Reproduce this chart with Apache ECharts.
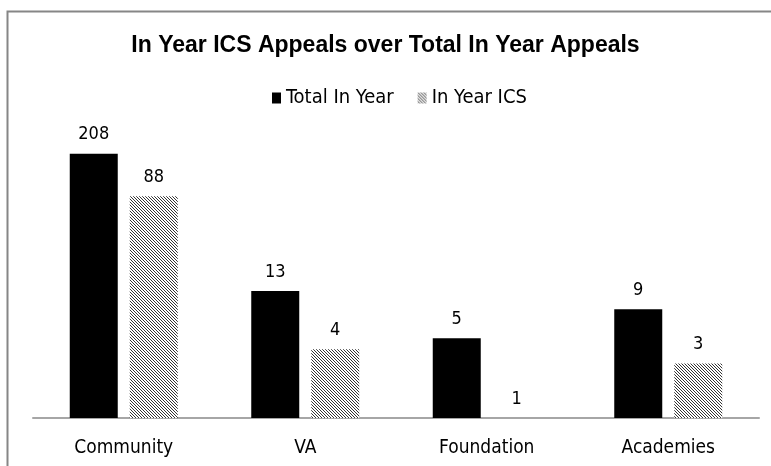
<!DOCTYPE html>
<html>
<head>
<meta charset="utf-8">
<script src="https://cdn.jsdelivr.net/npm/echarts@6/dist/echarts.min.js"></script>
<style>
  html, body { margin: 0; padding: 0; background: #fff; }
  #chart { width: 771px; height: 466px; }
</style>
</head>
<body>
<div id="chart"></div>
<script>
const categories = ["Community", "VA", "Foundation", "Academies"];
const totalInYear = [208, 13, 5, 9];
const inYearICS = [88, 4, 1, 3];

// diagonal hatch like the excel pattern fill
function makeHatch() {
  const c = document.createElement("canvas");
  c.width = 3;
  c.height = 3;
  const ctx = c.getContext("2d");
  ctx.fillStyle = "#ffffff";
  ctx.fillRect(0, 0, 3, 3);
  ctx.fillStyle = "#333333";
  for (let i = 0; i < 3; i++) ctx.fillRect(i, i, 1, 1);
  return c;
}
const hatch = { image: makeHatch(), repeat: "repeat" };

const labelFont = "'DejaVu Sans Condensed', 'Open Sans', sans-serif";

const chart = echarts.init(document.getElementById("chart"));
chart.setOption({
  animation: false,
  backgroundColor: "#fff",
  title: {
    text: "In Year ICS Appeals over Total In Year Appeals",
    left: "center",
    top: 29,
    textStyle: { fontFamily: "'Liberation Sans', Arial, sans-serif", fontSize: 23, fontWeight: "bold", color: "#000" },
  },
  legend: {
    top: 83,
    left: 267,
    itemWidth: 9,
    itemHeight: 11,
    itemGap: 24,
    icon: "rect",
    textStyle: { fontFamily: labelFont, fontSize: 20, color: "#000" },
    data: ["Total In Year", "In Year ICS"],
  },
  grid: { left: 33, right: 12, top: 76, bottom: 48 },
  xAxis: {
    type: "category",
    data: categories,
    axisLine: { lineStyle: { color: "#a6a6a6", width: 2 } },
    axisTick: { show: false },
    axisLabel: { margin: 21, fontFamily: labelFont, fontSize: 19, color: "#000" },
  },
  yAxis: {
    type: "log",
    min: 1,
    max: 1000,
    show: false,
  },
  series: [
    {
      name: "Total In Year",
      type: "bar",
      data: totalInYear,
      barWidth: 48,
      barGap: "25%",
      itemStyle: { color: "#000" },
      label: { show: true, position: "top", distance: 10, fontFamily: labelFont, fontSize: 18, color: "#000" },
    },
    {
      name: "In Year ICS",
      type: "bar",
      data: inYearICS,
      barWidth: 48,
      itemStyle: { color: hatch },
      label: { show: true, position: "top", distance: 10, fontFamily: labelFont, fontSize: 18, color: "#000" },
    },
  ],
  graphic: [
    {
      type: "rect",
      shape: { x: 7.5, y: 11.5, width: 820, height: 520 },
      style: { fill: null, stroke: "#868686", lineWidth: 2 },
      silent: true,
    },
  ],
});
</script>
</body>
</html>
